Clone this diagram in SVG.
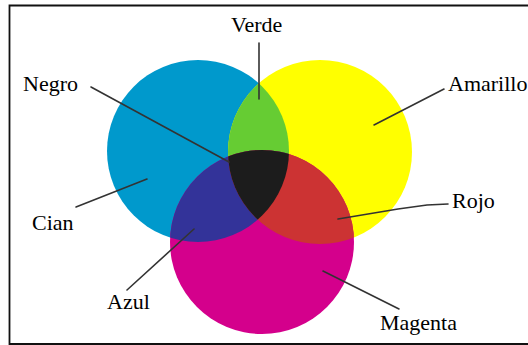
<svg xmlns="http://www.w3.org/2000/svg" width="528" height="345" viewBox="0 0 528 345">
  <style>
    .lbl { font-family: 'Liberation Serif', 'DejaVu Serif', 'Times New Roman', serif; font-size: 22px; fill: #000; }
    .lead { stroke: #333; stroke-width: 1.6; fill: none; stroke-linecap: round; }
    .frame { stroke: #111; stroke-width: 1.8; fill: none; }
  </style>
  <defs>
    <clipPath id="clipC"><circle cx="198" cy="151" r="91"/></clipPath>
    <clipPath id="clipY"><circle cx="320" cy="152" r="92"/></clipPath>
    <clipPath id="clipM"><circle cx="262" cy="242" r="92"/></clipPath>
  </defs>

  <rect x="0" y="0" width="528" height="345" fill="#fff"/>
  <!-- frame (open on the right side) -->
  <path class="frame" d="M530 5.5 H9.5 V344 H530"/>

  <!-- primary circles -->
  <g id="cian-circle"><circle cx="198" cy="151" r="91" fill="#0099CC"/></g>
  <g id="amarillo-circle"><circle cx="320" cy="152" r="92" fill="#FFFF00"/></g>
  <g id="magenta-circle"><circle cx="262" cy="242" r="92" fill="#D4008C"/></g>

  <!-- pairwise overlaps -->
  <g id="verde-area"><circle cx="320" cy="152" r="92" fill="#66CC33" clip-path="url(#clipC)"/></g>
  <g id="azul-area"><circle cx="262" cy="242" r="92" fill="#333399" clip-path="url(#clipC)"/></g>
  <g id="rojo-area"><circle cx="262" cy="242" r="92" fill="#CC3333" clip-path="url(#clipY)"/></g>
  <!-- triple overlap -->
  <g id="negro-area" clip-path="url(#clipC)"><circle cx="262" cy="242" r="92" fill="#1C1C1C" clip-path="url(#clipY)"/></g>

  <!-- leader lines -->
  <g id="connectors">
    <line class="lead" x1="91" y1="87" x2="229" y2="162"/>
    <line class="lead" x1="259" y1="43" x2="259" y2="99"/>
    <line class="lead" x1="444" y1="89" x2="374" y2="125"/>
    <polyline class="lead" points="448,204 427,205 398,209 338,219"/>
    <line class="lead" x1="76" y1="207" x2="147" y2="179"/>
    <line class="lead" x1="127" y1="290" x2="194" y2="229"/>
    <line class="lead" x1="399" y1="309" x2="323" y2="271"/>
  </g>

  <!-- labels -->
  <g font-family="Liberation Serif, DejaVu Serif, serif">
    <g id="label-negro"><text class="lbl" x="23" y="91">Negro</text></g>
    <g id="label-verde"><text class="lbl" x="231" y="32">Verde</text></g>
    <g id="label-amarillo"><text class="lbl" x="448" y="91">Amarillo</text></g>
    <g id="label-rojo"><text class="lbl" x="452" y="208">Rojo</text></g>
    <g id="label-cian"><text class="lbl" x="32" y="230">Cian</text></g>
    <g id="label-azul"><text class="lbl" x="107" y="309">Azul</text></g>
    <g id="label-magenta"><text class="lbl" x="380" y="330">Magenta</text></g>
  </g>
</svg>
